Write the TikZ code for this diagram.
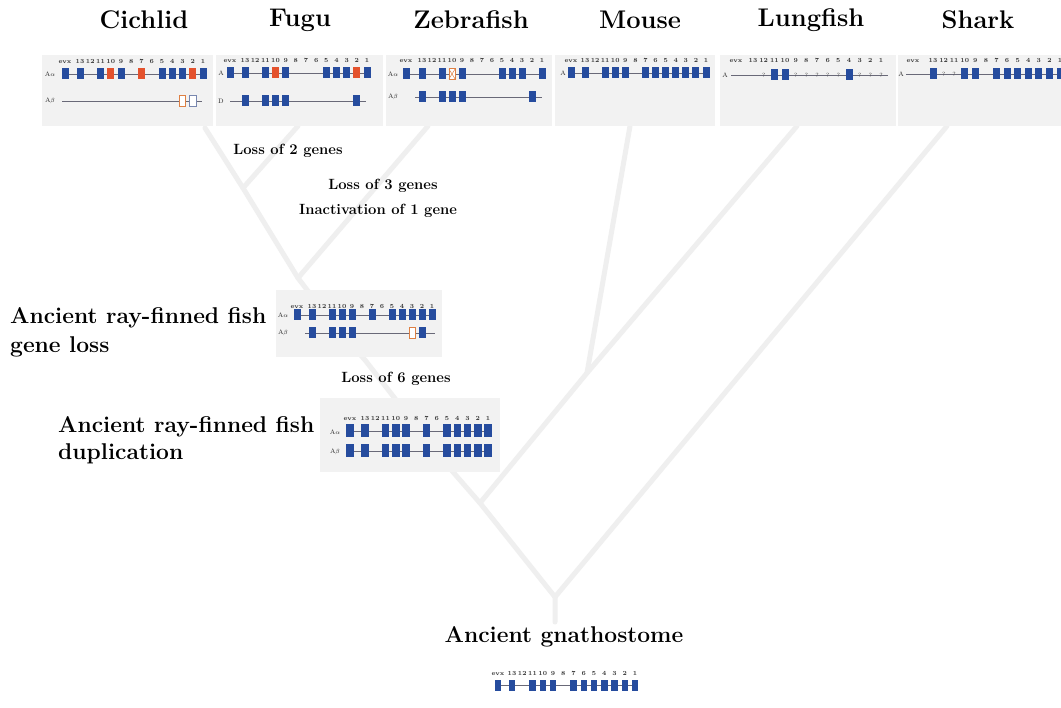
\documentclass[tikz,border=0pt]{standalone}
\usepackage{fontspec}
\usetikzlibrary{calc}
\definecolor{geneblue}{RGB}{38,76,158}
\definecolor{genered}{RGB}{228,82,45}
\definecolor{geneorange}{RGB}{222,128,68}
\definecolor{genegray}{RGB}{120,135,175}
\definecolor{panelgray}{RGB}{242,242,242}
\definecolor{treegray}{RGB}{239,239,239}
\definecolor{linegray}{RGB}{105,105,120}
\def\bw{7}\def\bh{11}
\tikzset{
 gbb/.style={fill=geneblue, minimum width=\bw pt, minimum height=\bh pt, inner sep=0pt},
 gbr/.style={fill=genered, minimum width=\bw pt, minimum height=\bh pt, inner sep=0pt},
 gbo/.style={draw=geneorange, fill=white, line width=0.7pt, minimum width=\bw pt-0.7pt, minimum height=\bh pt-0.7pt, inner sep=0pt},
 gbg/.style={draw=genegray, fill=white, line width=0.7pt, minimum width=\bw pt-0.7pt, minimum height=\bh pt-0.7pt, inner sep=0pt},
 gbx/.style={draw=geneorange, fill=white, line width=0.6pt, minimum width=\bw pt-0.6pt, minimum height=\bh pt-0.6pt, inner sep=0pt,
   path picture={\draw[geneorange, line width=0.5pt] (path picture bounding box.north west) -- (path picture bounding box.south east)
     (path picture bounding box.north east) -- (path picture bounding box.south west);}},
 gbq/.style={inner sep=0pt, font=\fontsize{6}{6}\selectfont, text=black!80},
 gbn/.style={inner sep=0pt, minimum size=0pt},
 numlbl/.style={inner sep=0pt, anchor=base, font=\fontsize{6.2}{6.5}\selectfont\bfseries, text=black!80},
 rowlbl/.style={inner sep=0pt, font=\fontsize{6.5}{6.5}\selectfont, text=black!85},
 geneline/.style={draw=linegray, line width=0.7pt},
 panel/.style={fill=panelgray, draw=none, anchor=north west, inner sep=0pt},
 tree/.style={draw=treegray, line width=5pt, line cap=round, line join=round},
 title/.style={font=\fontsize{25.5}{27}\selectfont\bfseries, inner sep=0pt},
 bigtitle/.style={font=\fontsize{22.8}{24}\selectfont\bfseries, inner sep=0pt},
 note/.style={font=\fontsize{14.8}{16}\selectfont\bfseries, inner sep=0pt},
}
% labels row: prefix, x evx, x 13, x 1, y (centre of digits)
\newcommand{\genelabels}[5]{%
 \node[numlbl] (#1L0) at (#2,#5+2.2) {evx};
 \foreach \l [count=\i from 1] in {13,12,11,10,9,8,7,6,5,4,3,2,1} {
   \pgfmathsetmacro\px{#3+(\i-1)*(#4-#3)/12}
   \node[numlbl] (#1L\i) at (\px,#5+2.2) {\l};
 }}
% gene row: prefix, x evx, x 13, x 1, y, line start, line end, states
\newcommand{\generow}[8]{%
 \coordinate (#1s) at (#6,#5);
 \coordinate (#1e) at (#7,#5);
 \draw[geneline] (#1s) -- (#1e);
 \foreach \s [count=\i from 0] in {#8} {
   \ifnum\i=0 \def\px{#2}\else\pgfmathsetmacro\px{#3+(\i-1)*(#4-#3)/12}\fi
   \node[gb\s] (#1\i) at (\px,#5) {\if q\s ?\fi};
 }}
\begin{document}
\begin{tikzpicture}[x=1pt,y=-1pt]
\useasboundingbox (0,0) rectangle (1061,708);
\fill[white] (0,0) rectangle (1061,708);

% ---------- tree ----------
\coordinate (tCich) at (205,128);
\coordinate (tFugu) at (298,126);
\coordinate (nCF) at (243,188);
\coordinate (tZeb) at (428,126);
\coordinate (nCFZ) at (298,278);
\coordinate (tGL) at (330,320);
\coordinate (tGLb) at (365,360);
\coordinate (tDup) at (400,405);
\coordinate (tDupb) at (453,472);
\coordinate (nOst) at (480,503);
\coordinate (nML) at (587,373);
\coordinate (tMouse) at (630,126);
\coordinate (tLung) at (797,126);
\coordinate (tShark) at (947,126);
\coordinate (nRoot) at (555,597);
\coordinate (tRootEnd) at (555,622);
\draw[tree] (tCich) -- (nCF) -- (nCFZ) -- (tGL) -- (tGLb) -- (tDup) -- (tDupb) -- (nOst) -- (nRoot) -- (tRootEnd);
\draw[tree] (tFugu) -- (nCF);
\draw[tree] (tZeb) -- (nCFZ);
\draw[tree] (nOst) -- (nML) -- (tMouse);
\draw[tree] (nML) -- (tLung);
\draw[tree] (tShark) -- (nRoot);

% ---------- panels ----------
\node[panel, minimum width=171pt, minimum height=71pt] (pCich) at (42,55) {};
\node[panel, minimum width=167pt, minimum height=71pt] (pFugu) at (216,55) {};
\node[panel, minimum width=166pt, minimum height=71pt] (pZeb) at (386,55) {};
\node[panel, minimum width=160pt, minimum height=71pt] (pMouse) at (555,55) {};
\node[panel, minimum width=176pt, minimum height=71pt] (pLung) at (720,55) {};
\node[panel, minimum width=163pt, minimum height=71pt] (pShark) at (898,55) {};
\node[panel, minimum width=166pt, minimum height=67pt] (pGL) at (276,290) {};
\node[panel, minimum width=180pt, minimum height=74pt] (pDup) at (320,398) {};

% ---------- titles ----------
\node[title] (ttCich) at (144,20) {Cichlid};
\node[title] (ttFugu) at (300,20) {Fugu};
\node[title] (ttZeb) at (471,20) {Zebrafish};
\node[title] (ttMouse) at (640,20) {Mouse};
\node[title] (ttLung) at (811,20) {Lungfish};
\node[title] (ttShark) at (978,20) {Shark};
\node[bigtitle, anchor=west] (ttGL1) at (10,318) {Ancient ray-finned fish};
\node[bigtitle, anchor=west] (ttGL2) at (10,347) {gene loss};
\node[bigtitle, anchor=west] (ttDup1) at (58,427) {Ancient ray-finned fish};
\node[bigtitle, anchor=west] (ttDup2) at (58,454) {duplication};
\node[bigtitle] (ttRoot) at (564,637) {Ancient gnathostome};

% ---------- notes ----------
\node[note] (n2) at (288,151) {Loss of 2 genes};
\node[note] (n3) at (383,186) {Loss of 3 genes};
\node[note] (n3b) at (378,211) {Inactivation of 1 gene};
\node[note] (n6) at (396,379) {Loss of 6 genes};

% ---------- gene diagrams ----------
% Cichlid
\genelabels{cl}{65}{80}{203}{61}
\node[rowlbl] (clA) at (50,74) {A$\alpha$};
\generow{ca}{65}{80}{203}{74}{65}{203}{b,b,n,b,r,b,n,r,n,b,b,b,r,b}
\node[rowlbl] (clB) at (50,101) {A$\beta$};
\generow{cb}{65}{80}{203}{101}{62}{202}{n,n,n,n,n,n,n,n,n,n,n,o,g,n}
% Fugu
\genelabels{fl}{230}{245}{367}{60}
\node[rowlbl] (flA) at (221,73) {A};
\generow{fa}{230}{245}{367}{73}{230}{367}{b,b,n,b,r,b,n,n,n,b,b,b,r,b}
\node[rowlbl] (flD) at (221,101) {D};
\generow{fd}{230}{245}{367}{101}{230}{366}{n,b,n,b,b,b,n,n,n,n,n,n,b,n}
% Zebrafish
\genelabels{zl}{406}{422}{542}{60}
\node[rowlbl] (zlA) at (393,74) {A$\alpha$};
\generow{za}{406}{422}{542}{74}{406}{542}{b,b,n,b,x,b,n,n,n,b,b,b,n,b}
\node[rowlbl] (zlB) at (393,97) {A$\beta$};
\generow{zb}{406}{422}{542}{97}{415}{542}{n,b,n,b,b,b,n,n,n,n,n,n,b,n}
% Mouse
\genelabels{ml}{571}{585}{706}{60}
\node[rowlbl] (mlA) at (563,73) {A};
\generow{ma}{571}{585}{706}{73}{571}{706}{b,b,n,b,b,b,n,b,b,b,b,b,b,b}
% Lungfish
\genelabels{ll}{736}{753}{881}{60}
\node[rowlbl] (llA) at (725,75) {A};
\generow{la}{736}{753}{881}{75}{731}{888}{n,n,q,b,b,q,q,q,q,q,b,q,q,q}
% Shark
\genelabels{sl}{913}{933}{1060}{60}
\node[rowlbl] (slA) at (901,74) {A};
\generow{sa}{913}{933}{1060}{74}{906}{1061}{n,b,q,q,b,b,n,b,b,b,b,b,b,b}
% Gene loss ancestor
\genelabels{gl}{297}{312}{432}{306}
\node[rowlbl] (glA) at (283,315) {A$\alpha$};
\generow{ga}{297}{312}{432}{315}{297}{435}{b,b,n,b,b,b,n,b,n,b,b,b,b,b}
\node[rowlbl] (glB) at (283,333) {A$\beta$};
\generow{gb}{297}{312}{432}{333}{305}{435}{n,b,n,b,b,b,n,n,n,n,n,o,b,n}
% Duplication ancestor
\def\bw{7.5}\def\bh{13}
\genelabels{dl}{350}{365}{488}{418}
\node[rowlbl] (dlA) at (335,432) {A$\alpha$};
\generow{da}{350}{365}{488}{431}{350}{488}{b,b,n,b,b,b,n,b,n,b,b,b,b,b}
\node[rowlbl] (dlB) at (335,452) {A$\beta$};
\generow{db}{350}{365}{488}{451}{350}{488}{b,b,n,b,b,b,n,b,n,b,b,b,b,b}
% Gnathostome ancestor
\def\bw{6.5}\def\bh{11}
\genelabels{rl}{498}{512}{635}{673}
\generow{ra}{498}{512}{635}{685}{498}{635}{b,b,n,b,b,b,n,b,b,b,b,b,b,b}
\end{tikzpicture}
\end{document}
